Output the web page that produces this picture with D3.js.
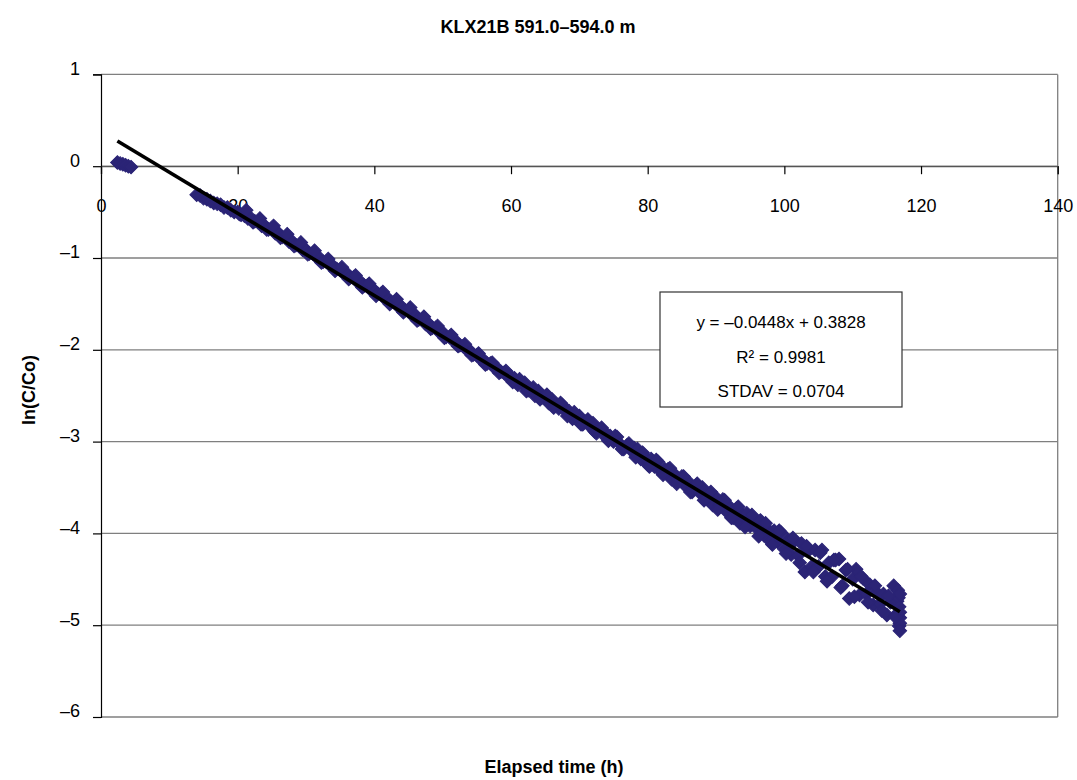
<!DOCTYPE html>
<html>
<head>
<meta charset="utf-8">
<script src="https://cdn.jsdelivr.net/npm/d3@7"></script>
<style>
  html, body { margin: 0; padding: 0; background: #fff; }
  svg { display: block; }
  text { font-family: "Liberation Sans", Arial, sans-serif; fill: #000; }
</style>
</head>
<body>
<svg id="chart" width="1077" height="780"></svg>
<script>
// ---- data ----
const chartTitle = "KLX21B 591.0\u2013594.0 m";
const xTitle = "Elapsed time (h)";
const yTitle = "ln(C/Co)";
const xTickValues = [0, 20, 40, 60, 80, 100, 120, 140];
const xTickLabels = ["0", "20", "40", "60", "80", "100", "120", "140"];
const yTickValues = [1, 0, -1, -2, -3, -4, -5, -6];
const yTickLabels = ["1", "0", "\u20131", "\u20132", "\u20133", "\u20134", "\u20135", "\u20136"];
const fitSlope = -0.0448;
const fitIntercept = 0.3828;
const fitLabels = ["y = \u20130.0448x + 0.3828", "R\u00b2 = 0.9981", "STDAV = 0.0704"];

// elapsed time (h) and ln(C/Co)
const earlyTimes = [2.4, 2.8, 3.2, 3.6, 4.0, 4.4];
const earlyValues = [0.04, 0.03, 0.02, 0.01, 0.0, -0.01];

const mainTimes = [
 14.0,14.5,15.0,15.5,16.0,16.5,17.0,17.5,18.0,18.5,19.0,19.5,20.0,20.5,21.0,21.5,22.0,22.5,23.0,23.5,
 24.0,24.5,25.0,25.5,26.0,26.5,27.0,27.5,28.0,28.5,29.0,29.5,30.0,30.5,31.0,31.5,32.0,32.5,33.0,33.5,
 34.0,34.5,35.0,35.5,36.0,36.5,37.0,37.5,38.0,38.5,39.0,39.5,40.0,40.5,41.0,41.5,42.0,42.5,43.0,43.5,
 44.0,44.5,45.0,45.5,46.0,46.5,47.0,47.5,48.0,48.5,49.0,49.5,50.0,50.5,51.0,51.5,52.0,52.5,53.0,53.5,
 54.0,54.5,55.0,55.5,56.0,56.5,57.0,57.5,58.0,58.5,59.0,59.5,60.0,60.5,61.0,61.5,62.0,62.5,63.0,63.5,
 64.0,64.5,65.0,65.5,66.0,66.5,67.0,67.5,68.0,68.5,69.0,69.5,70.0,70.5,71.0,71.5,72.0,72.5,73.0,73.5,
 74.0,74.5,75.0,75.5,76.0,76.5,77.0,77.5,78.0,78.5,79.0,79.5,80.0,80.5,81.0,81.5,82.0,82.5,83.0,83.5,
 84.0,84.5,85.0,85.5,86.0,86.5,87.0,87.5,88.0,88.5,89.0,89.5,90.0,90.5,91.0,91.5,92.0,92.5,93.0,93.5,
 94.0,94.5,95.0,95.5,96.0,96.5,97.0,97.5,98.0,98.5,99.0,99.5,100.0,100.5,101.0,101.5,102.0,102.5,103.0,103.5,
 104.0,104.5,105.0,105.5,106.0,106.5,107.0,107.5,108.0,108.5,109.0,109.5,110.0,110.5,111.0,111.5,112.0,112.5,113.0,113.5,
 114.0,114.5,115.0,115.5,116.0,116.3,116.5,116.6,116.7,116.8,116.8,116.9,116.9,116.9,116.9,116.9
];
const mainValues = [
 -0.31,-0.32,-0.35,-0.36,-0.38,-0.40,-0.41,-0.42,-0.45,-0.45,-0.48,-0.50,-0.50,-0.53,-0.54,-0.57,-0.57,-0.60,-0.61,-0.65,
 -0.65,-0.69,-0.69,-0.73,-0.73,-0.77,-0.78,-0.82,-0.82,-0.86,-0.87,-0.91,-0.91,-0.95,-0.95,-0.99,-1.00,-1.04,-1.04,-1.08,
 -1.09,-1.12,-1.13,-1.17,-1.17,-1.21,-1.21,-1.26,-1.26,-1.30,-1.30,-1.35,-1.35,-1.39,-1.39,-1.44,-1.44,-1.48,-1.48,-1.53,
 -1.53,-1.57,-1.58,-1.62,-1.62,-1.67,-1.67,-1.72,-1.72,-1.76,-1.76,-1.81,-1.81,-1.86,-1.86,-1.90,-1.91,-1.95,-1.96,-2.00,
 -2.01,-2.05,-2.06,-2.10,-2.11,-2.15,-2.15,-2.19,-2.20,-2.24,-2.25,-2.29,-2.29,-2.31,-2.38,-2.36,-2.36,-2.44,-2.44,-2.50,
 -2.45,-2.52,-2.51,-2.58,-2.54,-2.60,-2.64,-2.60,-2.67,-2.67,-2.75,-2.72,-2.72,-2.81,-2.78,-2.83,-2.80,-2.91,-2.88,-2.88,
 -2.96,-2.94,-3.00,-2.95,-3.03,-3.08,-3.04,-3.09,-3.07,-3.08,-3.19,-3.16,-3.25,-3.19,-3.27,-3.22,-3.33,-3.30,-3.30,-3.41,
 -3.36,-3.42,-3.38,-3.48,-3.44,-3.55,-3.48,-3.55,-3.50,-3.62,-3.58,-3.69,-3.61,-3.69,-3.63,-3.76,-3.71,-3.83,-3.73,-3.89,
 -3.81,-3.78,-3.92,-3.84,-3.95,-3.86,-4.02,-3.95,-4.09,-3.97,-4.09,-3.99,-4.17,-4.07,-4.23,-4.08,-4.24,-4.11,-4.42,-4.19,
 -4.36,-4.18,-4.36,-4.18,-4.47,-4.32,-4.47,-4.29,-4.28,-4.57,-4.40,-4.71,-4.50,-4.39,-4.67,-4.49,-4.66,-4.56,-4.78,-4.64,
 -4.77,-4.66,-4.89,-4.75,-4.57,-4.89,-4.74,-4.62,-4.70,-5.01,-4.80,-4.92,-4.98,-5.06,-4.86,-4.66
];

// additional readings between the above (same series)
const extraTimes = [
 20.25,21.25,22.25,23.25,24.25,25.25,26.25,27.25,28.25,29.25,30.25,31.25,32.25,33.25,34.25,35.25,36.25,37.25,38.25,39.25,
 40.25,41.25,42.25,43.25,44.25,45.25,46.25,47.25,48.25,49.25,50.25,51.25,52.25,53.25,54.25,55.25,56.25,57.25,58.25,59.25,
 60.25,61.25,62.25,63.25,64.25,65.25,66.25,67.25,68.25,69.25,70.25,71.25,72.25,73.25,74.25,75.25,76.25,77.25,78.25,79.25,
 80.25,81.25,82.25,83.25,84.25,85.25,86.25,87.25,88.25,89.25,90.25,91.25,92.25,93.25,94.25,95.25,96.25,97.25,98.25,99.25,
 100.25,101.25,102.25,103.25,104.25,105.25,106.25,107.25,108.25,109.25,110.25,111.25,112.25,113.25,114.25,115.25,116.25
];
const extraValues = [
 -0.52,-0.48,-0.61,-0.57,-0.69,-0.65,-0.78,-0.74,-0.87,-0.83,-0.96,-0.92,-1.05,-1.01,-1.14,-1.10,-1.23,-1.19,-1.32,-1.28,
 -1.41,-1.37,-1.50,-1.45,-1.59,-1.54,-1.68,-1.64,-1.77,-1.74,-1.87,-1.84,-1.96,-1.94,-2.06,-2.04,-2.16,-2.14,-2.25,-2.23,
 -2.35,-2.32,-2.45,-2.41,-2.54,-2.49,-2.63,-2.58,-2.72,-2.68,-2.81,-2.76,-2.89,-2.85,-2.99,-2.94,-3.08,-3.02,-3.17,-3.12,
 -3.27,-3.20,-3.36,-3.29,-3.46,-3.38,-3.55,-3.46,-3.64,-3.55,-3.74,-3.64,-3.83,-3.71,-3.93,-3.80,-4.03,-3.89,-4.12,-3.97,
 -4.22,-4.05,-4.32,-4.14,-4.42,-4.21,-4.52,-4.29,-4.59,-4.39,-4.69,-4.47,-4.75,-4.57,-4.84,-4.68,-4.91
];

// ---- drawing ----
const svg = d3.select("#chart");
const plot = { left: 101, right: 1057.7, top: 74.4, bottom: 717 };
const navy = "#2B2476";
const gridColor = "#7f7f7f";

const x = d3.scaleLinear().domain([0, 140]).range([plot.left, plot.right]);
const y = d3.scaleLinear().domain([-6, 1]).range([plot.bottom, plot.top]);

// horizontal gridlines
svg.append("g").selectAll("line").data(yTickValues).join("line")
  .attr("x1", plot.left).attr("x2", plot.right)
  .attr("y1", d => y(d)).attr("y2", d => y(d))
  .attr("stroke", gridColor).attr("stroke-width", 1.3);

// right border
svg.append("line")
  .attr("x1", plot.right).attr("x2", plot.right)
  .attr("y1", plot.top).attr("y2", plot.bottom)
  .attr("stroke", gridColor).attr("stroke-width", 1.3);

// y axis (left)
const yAxis = d3.axisLeft(y).tickValues(yTickValues).tickSize(8)
  .tickFormat((d, i) => yTickLabels[i]);
const gy = svg.append("g").attr("transform", `translate(${plot.left},0)`).call(yAxis);
gy.select(".domain").attr("stroke", "#000").attr("stroke-width", 1.2);
gy.selectAll(".tick line").attr("stroke", "#000").attr("stroke-width", 1.2);
gy.selectAll(".tick text")
  .attr("x", -21).attr("dy", "-0.06em")
  .style("font-size", "18px").style("font-family", "'Liberation Sans', Arial, sans-serif")
  .attr("fill", "#000")
  .attr("y", 1);

// x axis at y = 0
const xAxis = d3.axisBottom(x).tickValues(xTickValues).tickSize(8)
  .tickFormat((d, i) => xTickLabels[i]);
const gx = svg.append("g").attr("transform", `translate(0,${y(0)})`).call(xAxis);
gx.select(".domain").attr("stroke", "#555").attr("stroke-width", 1.3);
gx.selectAll(".tick line").attr("stroke", "#000").attr("stroke-width", 1.2);
gx.selectAll(".tick text")
  .attr("y", 46).attr("dy", 0)
  .style("font-size", "18px").style("font-family", "'Liberation Sans', Arial, sans-serif")
  .attr("fill", "#000");

// markers
const diamond = d3.symbol().type(d3.symbolSquare).size(92);
const toPts = (ts, vs) => ts.map((t, i) => [t, vs[i]]);
const allPts = toPts(earlyTimes, earlyValues)
  .concat(toPts(mainTimes, mainValues))
  .concat(toPts(extraTimes, extraValues));
svg.append("g").selectAll("path").data(allPts).join("path")
  .attr("d", diamond)
  .attr("transform", d => `translate(${x(d[0])},${y(d[1])}) rotate(45)`)
  .attr("fill", navy).attr("stroke", navy).attr("stroke-width", 1);

// linear trend line over the data range
const tExt = d3.extent(allPts, d => d[0]);
const fitLine = d3.line().x(d => x(d)).y(d => y(fitSlope * d + fitIntercept));
svg.append("path").datum(tExt)
  .attr("d", fitLine)
  .attr("fill", "none").attr("stroke", "#000").attr("stroke-width", 3.6);

// equation box
const box = { x: 660, y: 292, w: 242, h: 115 };
svg.append("rect").attr("x", box.x).attr("y", box.y).attr("width", box.w).attr("height", box.h)
  .attr("fill", "#fff").attr("stroke", "#333").attr("stroke-width", 1.2);
const boxLines = svg.append("g");
boxLines.append("text").attr("x", box.x + box.w / 2).attr("y", 328)
  .attr("text-anchor", "middle").style("font-size", "17px").text(fitLabels[0]);
boxLines.append("text").attr("x", box.x + box.w / 2).attr("y", 363)
  .attr("text-anchor", "middle").style("font-size", "17px").text(fitLabels[1]);
boxLines.append("text").attr("x", box.x + box.w / 2).attr("y", 397)
  .attr("text-anchor", "middle").style("font-size", "17px").text(fitLabels[2]);

// titles
svg.append("text").attr("x", 538).attr("y", 33).attr("text-anchor", "middle")
  .style("font-size", "18px").style("font-weight", "bold").text(chartTitle);
svg.append("text").attr("x", 554).attr("y", 773).attr("text-anchor", "middle")
  .style("font-size", "18px").style("font-weight", "bold").text(xTitle);
svg.append("text").attr("transform", "translate(35,390) rotate(-90)").attr("text-anchor", "middle")
  .style("font-size", "18px").style("font-weight", "bold").text(yTitle);
</script>
</body>
</html>
